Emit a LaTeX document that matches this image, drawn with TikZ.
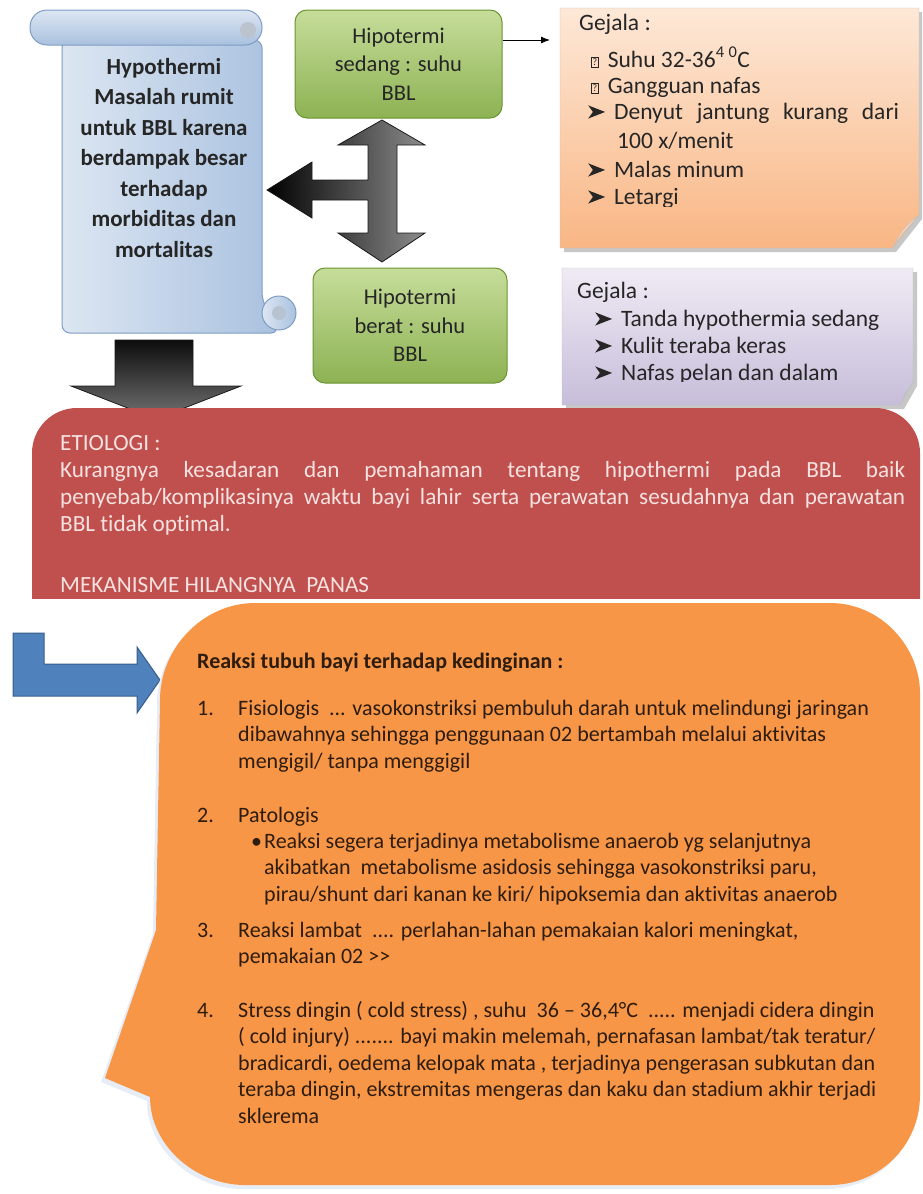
\documentclass[tikz,border=0pt]{standalone}
\usepackage{fontspec}
\setmainfont{Carlito}[Ligatures=NoCommon]
\usetikzlibrary{arrows.meta, positioning}

\definecolor{gulungA}{HTML}{DCE6F2}
\definecolor{gulungB}{HTML}{A9C1DF}
\definecolor{gulungTepi}{HTML}{7F9CC4}
\definecolor{hijauA}{HTML}{C6DD9A}
\definecolor{hijauB}{HTML}{8DB253}
\definecolor{hijauTepi}{HTML}{6A9530}
\definecolor{peachA}{HTML}{FDE8D7}
\definecolor{peachB}{HTML}{F9B684}
\definecolor{unguA}{HTML}{EFEBF4}
\definecolor{unguB}{HTML}{C7BDDA}
\definecolor{merah}{HTML}{C0504D}
\definecolor{merahTeks}{HTML}{F6E2E1}
\definecolor{jingga}{HTML}{F79646}
\definecolor{coklat}{HTML}{2E1C0F}
\definecolor{biru}{HTML}{4F81BD}
\definecolor{biruTepi}{HTML}{385D8A}

% simbol kecil
\newcommand{\panahbul}{\tikz[baseline=0pt]\fill[black!85] (0,0.02em) -- (0.72em,0.3em) -- (0,0.58em) -- (0.2em,0.3em) -- cycle;}
\newcommand{\kotaktanya}{{\setlength\fboxsep{1pt}\setlength\fboxrule{0.5pt}\raisebox{0.05em}{\fbox{\fontsize{10}{10}\selectfont ?}}}}

\tikzset{
  teks/.style={inner sep=0pt, anchor=base west},
  hijau/.style={rounded corners=12pt, draw=hijauTepi, line width=1pt, top color=hijauA, bottom color=hijauB,
    align=center, font=\fontsize{22.5}{28.5}\selectfont, text=black!85},
  catatan/.style={teks, font=\fontsize{23.5}{27}\selectfont, text=black!85},
  isi/.style={teks, font=\fontsize{22}{26.5}\selectfont, text=coklat},
}

\begin{document}
\begin{tikzpicture}[x=1pt,y=-1pt]
\useasboundingbox (0,0) rectangle (923,1194);

% Gulungan biru
\path[draw=gulungTepi, line width=1pt, left color=gulungA, right color=gulungB, rounded corners=8pt]
  (62,40) -- (62,333) -- (279,333) -- (262,300) -- (262,40) -- cycle;
\path[draw=gulungTepi, line width=1pt, left color=gulungA, right color=gulungB]
  (279,313) circle (17);
\fill[gulungB!80!black!60] (279,313) circle (7);
\path[draw=gulungTepi, line width=1pt, top color=gulungA, bottom color=gulungB, rounded corners=17pt]
  (30,10) rectangle (262,45);
\fill[gulungB!70!black!50] (248,30) circle (8);
\node[align=center, font=\bfseries\fontsize{23}{30.5}\selectfont, text=black!85] (judul) at (164,158)
  {Hypothermi\\Masalah rumit\\untuk BBL karena\\berdampak besar\\terhadap\\morbiditas dan\\mortalitas};

% Kotak hijau
\node[hijau, minimum width=207pt, minimum height=108pt] (sedang) at (398.5,64) {Hipotermi\\sedang : suhu\\BBL};
\node[hijau, minimum width=194pt, minimum height=115pt] (berat) at (410,325.5) {Hipotermi\\berat : suhu\\BBL};
\coordinate (ujung) at (550,40);
\draw[-{Latex[length=9pt,width=7pt]}, line width=1pt] ([yshift=24pt]sedang.east) -- (ujung);

% Panah hitam
\path[draw=black!90, line width=0.8pt, left color=black, right color=black!45]
  (382,120) -- (425,145) -- (397,145) -- (397,233) -- (425,233) -- (382,262) -- (338,233) -- (368,233)
  -- (368,200) -- (312,200) -- (312,218) -- (267,190) -- (312,162) -- (312,180) -- (368,180)
  -- (368,145) -- (338,145) -- cycle;
\path[draw=black!90, line width=0.8pt, top color=black!95, bottom color=black!55]
  (115,340) -- (193,340) -- (193,386) -- (241,386) -- (156,419) -- (71,386) -- (115,386) -- cycle;

% Catatan jingga
\fill[black!22] (564,12) -- (922,12) -- (922,219) -- (896,252) -- (564,252) -- cycle;
\path[draw=black!25, top color=peachA, bottom color=peachB] (560,8) -- (919,8) -- (919,215) -- (893,248) -- (560,248) -- cycle;
\path[draw=black!25, fill=peachA!60!peachB] (919,215) .. controls (910,222) and (900,230) .. (893,248)
  .. controls (899,236) and (908,228) .. (919,215);
\begin{scope}
  \clip (560,8) rectangle (919,206);
  \node[catatan] (gejala1) at (579,30) {Gejala :};
  \node[catatan] (suhu) at (591,67) {\kotaktanya\hspace{9pt}Suhu 32-36\textsuperscript{4}\,\textsuperscript{0}C};
  \node[catatan] (nafas) at (591,93) {\kotaktanya\hspace{9pt}Gangguan nafas};
  \node[catatan] (denyut) at (588,119) {\panahbul\hspace{9pt}\hbox to 285pt{Denyut\hfill jantung\hfill kurang\hfill dari}};
  \node[catatan] (menit) at (617,148) {100 x/menit};
  \node[catatan] (malas) at (588,177) {\panahbul\hspace{9pt}Malas minum};
  \node[catatan] (letargi) at (588,204) {\panahbul\hspace{9pt}Letargi};
\end{scope}

% Catatan ungu
\fill[black!22] (566,272) -- (917,272) -- (917,386) -- (904,409) -- (566,409) -- cycle;
\path[draw=black!25, top color=unguA, bottom color=unguB] (562,268) -- (913,268) -- (913,382) -- (900,405) -- (562,405) -- cycle;
\path[draw=black!25, fill=unguB!70!white] (913,382) .. controls (908,390) and (904,396) .. (900,405)
  .. controls (904,395) and (908,389) .. (913,382);
\begin{scope}
  \clip (562,268) rectangle (913,381);
  \node[catatan] (gejala2) at (577,298) {Gejala :};
  \node[catatan] (tanda) at (595,326) {\panahbul\hspace{9pt}Tanda hypothermia sedang};
  \node[catatan] (kulit) at (595,353) {\panahbul\hspace{9pt}Kulit teraba keras};
  \node[catatan] (pelan) at (595,380) {\panahbul\hspace{9pt}Nafas pelan dan dalam};
\end{scope}

% Kotak merah
\begin{scope}
  \clip (0,0) rectangle (923,598);
  \fill[merah, rounded corners=45pt] (32,408) rectangle (920,760);
\end{scope}
\node[teks, font=\fontsize{23.2}{27}\selectfont, text=merahTeks] (etiologi) at (60,450)
  {\parbox[t]{845pt}{\hyphenpenalty=10000 ETIOLOGI :\\
  Kurangnya kesadaran dan pemahaman tentang hipothermi pada BBL baik\linebreak
  penyebab/komplikasinya waktu bayi lahir serta perawatan sesudahnya dan perawatan\linebreak
  BBL tidak  optimal.\\[34pt]
  MEKANISME HILANGNYA~~PANAS}};

% Panah biru
\draw[fill=biru, draw=biruTepi, line width=1pt] (13,633) -- (44,633) -- (44,664) -- (137,664) -- (137,647)
  -- (160,680) -- (137,713) -- (137,696) -- (13,696) -- cycle;

% Balon jingga
\fill[gulungA!70!white] (157,704) .. controls (157,651) and (200,607) .. (252,607) -- (827,607)
  .. controls (879,607) and (917,652) .. (917,697) -- (917,1099) .. controls (917,1149) and (877,1189) .. (827,1189)
  -- (242,1189) .. controls (192,1189) and (147,1149) .. (147,1101) -- (101,1082) -- (153,934) -- cycle;
\fill[jingga] (160,700) .. controls (160,648) and (203,603) .. (255,603) -- (830,603)
  .. controls (882,603) and (920,648) .. (920,693) -- (920,1095) .. controls (920,1145) and (880,1185) .. (830,1185)
  -- (245,1185) .. controls (195,1185) and (150,1145) .. (150,1097) -- (105,1078) -- (156,930) -- cycle;
\node[isi, font=\bfseries\fontsize{22}{26.5}\selectfont] (reaksi) at (197,668) {Reaksi tubuh bayi terhadap kedinginan :};
\node[isi] (n1) at (197,715) {1.};
\node[isi] (fisio) at (238,715) {\parbox[t]{700pt}{Fisiologis~ ... vasokonstriksi pembuluh darah untuk melindungi jaringan\\
  dibawahnya sehingga penggunaan 02 bertambah melalui aktivitas\\ mengigil/ tanpa menggigil}};
\node[isi] (n2) at (197,822) {2.};
\node[isi] (pato) at (238,822) {Patologis};
\node[isi] (titik) at (251,848) {\textbullet};
\node[isi] (segera) at (264,848) {\parbox[t]{680pt}{Reaksi segera terjadinya metabolisme anaerob yg selanjutnya\\
  akibatkan~ metabolisme asidosis sehingga vasokonstriksi paru,\\ pirau/shunt dari kanan ke kiri/ hipoksemia dan aktivitas anaerob}};
\node[isi] (n3) at (197,937) {3.};
\node[isi] (lambat) at (238,937) {\parbox[t]{700pt}{Reaksi lambat~ .... perlahan-lahan pemakaian kalori meningkat,\\ pemakaian 02 >{}>}};
\node[isi] (n4) at (197,1017) {4.};
\node[isi] (stress) at (238,1017) {\parbox[t]{700pt}{Stress dingin ( cold stress) , suhu~ 36 -- 36,4°C~ ..... menjadi cidera dingin\\
  ( cold injury) ....... bayi makin melemah, pernafasan lambat/tak teratur/\\
  bradicardi, oedema kelopak mata , terjadinya pengerasan subkutan dan\\
  teraba dingin, ekstremitas mengeras dan kaku dan stadium akhir terjadi\\ sklerema}};
\end{tikzpicture}
\end{document}
